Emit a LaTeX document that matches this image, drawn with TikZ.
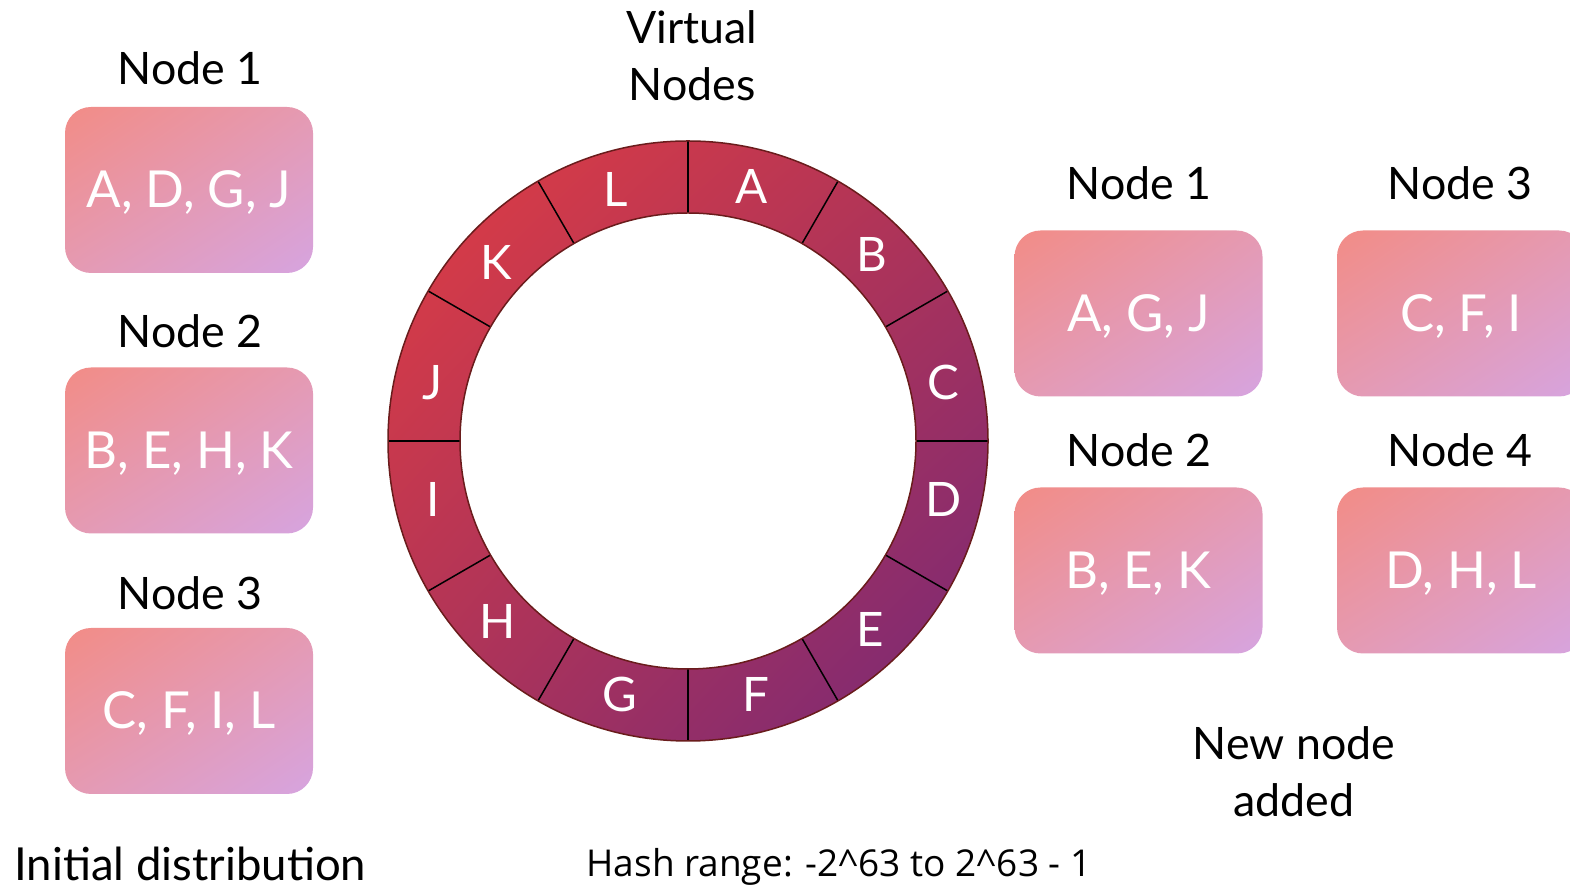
\documentclass[tikz,border=0pt]{standalone}
\usepackage{fontspec}
\setmainfont{Lato}
\newfontfamily\hashfont{Open Sans}
\usetikzlibrary{positioning, shadings}
\definecolor{salmon}{RGB}{242, 140, 134}
\definecolor{lavender}{RGB}{214, 164, 224}
\definecolor{rose}{RGB}{229, 154, 178}
\definecolor{ringred}{RGB}{226, 61, 66}
\definecolor{ringpurple}{RGB}{118, 40, 120}
\definecolor{ringmid}{RGB}{174, 52, 88}
\definecolor{ringedge}{RGB}{106, 28, 28}

\begin{document}
\begin{tikzpicture}
  [
    x=1pt, y=1pt,
    title/.style={font=\fontsize{44.7}{57}\selectfont, anchor=base},
    nodebox/.style={shade, upper left=salmon, lower right=lavender, upper right=rose, lower left=rose,
      rounded corners=26pt, minimum width=248pt, minimum height=166pt, text=white,
      font=\fontsize{51}{60}\selectfont, text height=36pt, text depth=0pt},
    ringfill/.style={upper left=ringred, lower right=ringpurple, upper right=ringmid, lower left=ringmid},
    ringline/.style={ringedge, line width=1.5pt},
    divider/.style={black, line width=1.5pt},
    slot/.style={text=white, font=\fontsize{47.5}{57}\selectfont, text height=34pt, text depth=0pt, inner sep=0pt}
  ]
  \useasboundingbox (0, 0) rectangle (1570, 888);

  % initial distribution
  \node[title] (t1) at (190, 803) {Node 1};
  \node[nodebox] (b1) at (189, 698) {A, D, G, J};
  \node[title] (t2) at (190, 540) {Node 2};
  \node[nodebox] (b2) at (189, 437.5) {B, E, H, K};
  \node[title] (t3) at (190, 278) {Node 3};
  \node[nodebox] (b3) at (189, 177) {C, F, I, L};
  \node[title, anchor=base west, font=\fontsize{45.5}{57}\selectfont] (initial) at (11, 8) {Initial distribution};

  % ring of virtual nodes
  \coordinate (ring) at (688, 447);
  \shade[ringfill, even odd rule] (ring) circle[radius=300pt] (ring) circle[radius=228pt];
  \foreach \a in {0, 30, ..., 330}
    \draw[divider] ([shift={(\a:228pt)}]ring) -- ([shift={(\a:300pt)}]ring);
  \draw[ringline] (ring) circle[radius=300pt];
  \draw[ringline] (ring) circle[radius=228pt];
  \foreach \l/\a in {A/76, B/45.5, C/13, D/-13, E/-46, F/-75, G/-105, H/-136.5, I/-167, J/167, K/137, L/106}
    \node[slot] (v\l) at ([shift={(\a:262pt)}]ring) {\l};
  \node[title, align=center, anchor=center] (virtual) at (692, 832) {Virtual\\Nodes};
  \node[anchor=base, font=\hashfont\fontsize{37}{40}\selectfont] (range) at (839, 11) {Hash range: -2\^{}63 to 2\^{}63 - 1};

  % after a node is added
  \node[title] (r1) at (1139, 688) {Node 1};
  \node[nodebox] (c1) at (1138.5, 574.5) {A, G, J};
  \node[title] (r3) at (1460, 688) {Node 3};
  \node[nodebox] (c3) at (1461, 574.5) {C, F, I};
  \node[title] (r2) at (1139, 421) {Node 2};
  \node[nodebox] (c2) at (1138.5, 317.5) {B, E, K};
  \node[title] (r4) at (1460, 421) {Node 4};
  \node[nodebox] (c4) at (1461, 317.5) {D, H, L};
  \node[title, align=center, anchor=center] (added) at (1294, 116) {New node\\added};

\end{tikzpicture}
\end{document}
